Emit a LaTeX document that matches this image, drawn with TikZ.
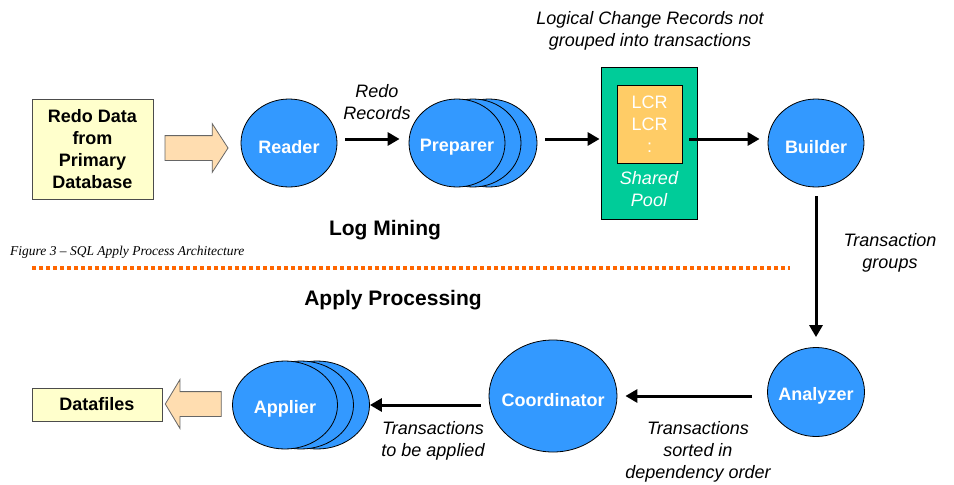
\documentclass[tikz,border=0pt]{standalone}
\usepackage{fontspec}
\setmainfont{Liberation Sans}
\newfontfamily\capfont{Liberation Serif}
\usetikzlibrary{shapes.geometric,shapes.arrows,arrows.meta}
\definecolor{procblue}{HTML}{3399FF}
\definecolor{poolgreen}{HTML}{00CC99}
\definecolor{lcrorange}{HTML}{FFCC66}
\definecolor{storeyellow}{HTML}{FFFFCC}
\definecolor{fatpeach}{HTML}{FFDDB0}
\definecolor{splitorange}{HTML}{FF6600}
\newcommand{\bodysize}{\fontsize{18}{22}\selectfont}

\begin{document}
\begin{tikzpicture}[x=1pt,y=-1pt,
		proc/.style={ellipse, draw=black, line width=0.8pt, fill=procblue, minimum width=96pt, minimum height=88pt,
			label={[text=white, font=\bodysize\bfseries, yshift=-4pt]center:#1}},
		store/.style={draw=black!70, line width=0.8pt, fill=storeyellow, align=center, font=\bodysize\bfseries},
		fat/.style={single arrow, draw=black!60, line width=0.8pt, fill=fatpeach, inner xsep=0pt, inner ysep=12pt, single arrow head extend=12pt},
		flow/.style={line width=3pt, -{Triangle[length=12pt,width=13pt]}},
		note/.style={align=center, font=\bodysize\itshape}]
		\tikzstyle{every node}+=[inner sep=0pt, font=\bodysize]
		\useasboundingbox (0,0) rectangle (954,485);
		% log mining
		\node [store, minimum width=121pt, minimum height=100pt] (redo) at (92.5,149) {Redo Data\\from\\Primary\\Database};
		\node [fat, minimum height=63pt, single arrow tip angle=114] (fatin) at (192.5,148) {};
		\node [proc={Reader}] (reader) at (289,143) {};
		\node [proc={}] (prep3) at (489,143) {};
		\node [proc={}] (prep2) at (473,143) {};
		\node [proc={Preparer}] (prep1) at (457,143) {};
		\node [draw=black, line width=0.8pt, fill=poolgreen, minimum width=96pt, minimum height=152pt] (pool) at (649,143) {};
		\node [draw=black, line width=0.8pt, fill=lcrorange, text=white, align=center, minimum width=65pt, minimum height=78pt] (lcr) at (649.5,124) {LCR\\LCR\\:};
		\node [note, text=white] (poolnote) at (649,189) {Shared\\Pool};
		\node [proc={Builder}] (builder) at (816,143) {};
		\node [note] (redonote) at (377,102.5) {Redo\\Records};
		\node [note] (lcrnote) at (650,30.5) {Logical Change Records not\\grouped into transactions};
		\draw [flow, shorten <=8pt, shorten >=9pt] ([yshift=4pt]reader.east) -- ([yshift=4pt]prep1.west);
		\draw [flow, shorten <=8pt, shorten >=1pt] ([yshift=4pt]prep3.east) -- ([yshift=4pt]pool.west);
		\draw [flow, shorten >=8pt] ([xshift=7pt,yshift=4pt]lcr.east |- builder.west) -- ([yshift=4pt]builder.west);
		% split
		\node [font=\fontsize{21}{25}\selectfont\bfseries] (mining) at (385,230) {Log Mining};
		\node [anchor=west, font=\capfont\fontsize{13.5}{16}\selectfont\itshape] (caption) at (10,252) {Figure 3 \textendash{} SQL Apply Process Architecture};
		\draw [splitorange, line width=4pt, dash pattern=on 4pt off 3pt] (32,268) -- (790,268);
		\node [font=\fontsize{21}{25}\selectfont\bfseries] (applying) at (393,300) {Apply Processing};
		% apply processing
		\node [proc={Analyzer}, minimum width=97pt, minimum height=89pt] (analyzer) at (816,392) {};
		\node [proc={Coordinator}, minimum width=128pt, minimum height=112pt] (coord) at (553,396) {};
		\node [proc={}, minimum width=105pt] (applier3) at (317,405) {};
		\node [proc={}, minimum width=105pt] (applier2) at (301,405) {};
		\node [proc={Applier}, minimum width=105pt] (applier1) at (285,405) {};
		\node [fat, shape border rotate=180, minimum height=56pt, single arrow tip angle=118] (fatout) at (197,404) {};
		\node [store, minimum width=130pt, minimum height=33pt] (datafiles) at (97,404.5) {Datafiles};
		\node [note] (groupnote) at (890,252.5) {Transaction\\groups};
		\node [note] (sortnote) at (698,452) {Transactions\\sorted in\\dependency order};
		\node [note] (applynote) at (433,440.5) {Transactions\\to be applied};
		\draw [flow, shorten <=9pt, shorten >=10pt] (builder.south) -- (analyzer.north);
		\draw [flow, shorten <=15pt, shorten >=8pt] (analyzer.west |- coord.east) -- (coord.east);
		\draw [flow, shorten <=8pt] (coord.west |- applier3.east) -- (applier3.east);
\end{tikzpicture}
\end{document}
